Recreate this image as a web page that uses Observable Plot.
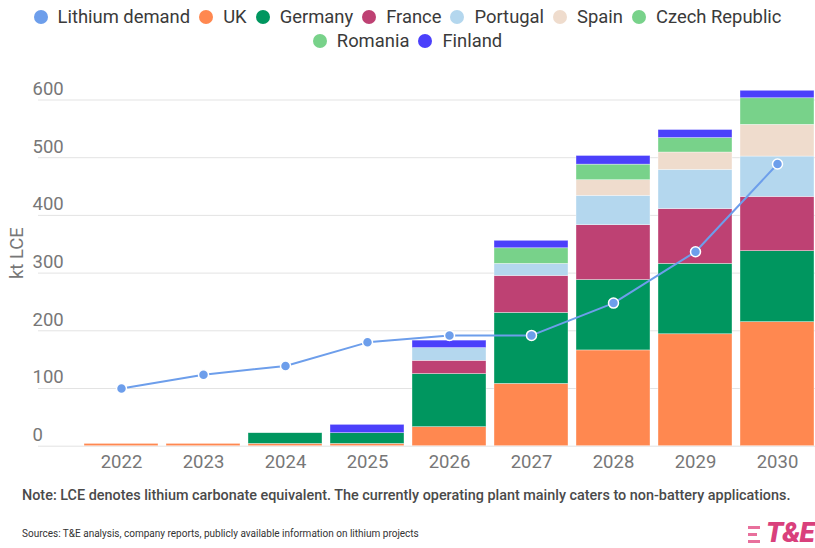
<!DOCTYPE html>
<html>
<head>
<meta charset="utf-8">
<script src="https://cdn.jsdelivr.net/npm/d3@7"></script>
<script src="https://cdn.jsdelivr.net/npm/@observablehq/plot@0.6"></script>
<style>
  html, body { margin: 0; padding: 0; background: #fff; }
  body { width: 815px; height: 548px; overflow: hidden; font-family: Roboto, "Noto Sans", sans-serif; position: relative; }
  #legend { height: 58px; box-sizing: border-box; padding-top: 5px; display: flex; flex-wrap: wrap; justify-content: center; align-content: flex-start; line-height: 24px; font-size: 18.4px; color: #3a3a3a; padding-left: 20px; padding-right: 20px; }
  .item { display: flex; align-items: center; margin: 0 4.5px; }
  .dot { width: 14px; height: 14px; border-radius: 50%; margin-right: 10px; }
  #chart { height: 420px; }
  #note { position: absolute; left: 22px; top: 487px; font-size: 14.4px; font-weight: 500; color: #4a4a4a; white-space: nowrap; }
  #sources { position: absolute; left: 22px; top: 528px; font-size: 10px; color: #333; white-space: nowrap; }
  #logo { position: absolute; left: 748px; top: 516px; font-size: 28px; font-weight: 900; font-style: italic; color: #d9407c; white-space: nowrap; letter-spacing: -1px; }
  #logo .bars { display: inline-block; vertical-align: middle; margin-right: 6px; }
  #logo .bars span { display: block; height: 3px; margin: 4px 0; background: #e8709c; }
</style>
</head>
<body>
<div id="legend"></div>
<div id="chart"></div>
<div id="note">Note: LCE denotes lithium carbonate equivalent. The currently operating plant mainly caters to non-battery applications.</div>
<div id="sources">Sources: T&amp;E analysis, company reports, publicly available information on lithium projects</div>
<div id="logo"><span class="bars"><span style="width:12px"></span><span style="width:9px"></span><span style="width:12px"></span></span>T&amp;E</div>
<script>
const years = ["2022", "2023", "2024", "2025", "2026", "2027", "2028", "2029", "2030"];
const countries = ["UK", "Germany", "France", "Portugal", "Spain", "Czech Republic", "Romania", "Finland"];
const colors = ["#ff8850", "#00965f", "#be4173", "#b4d7ee", "#efdccd", "#78d28a", "#78d28a", "#4b40fb"];
const demandColor = "#6d9eeb";

const uk       = [4, 4, 4, 4, 33, 108, 166, 194, 215];
const germany  = [0, 0, 18.5, 18.5, 92, 123, 122, 122, 123];
const france   = [0, 0, 0, 0, 23, 64, 95, 95, 94];
const portugal = [0, 0, 0, 0, 22, 21, 51, 68, 70];
const spain    = [0, 0, 0, 0, 0, 0, 27, 30, 55];
const czech    = [0, 0, 0, 0, 0, 27, 27, 25, 46];
const romania  = [0, 0, 0, 0, 0, 0, 0, 0, 0];
const finland  = [0, 0, 0, 14.5, 13, 13, 15, 14, 13];
const demand   = [100, 124, 139, 180, 192, 192, 248, 337, 489];

const yTicks = [0, 100, 200, 300, 400, 500, 600];

const series = [uk, germany, france, portugal, spain, czech, romania, finland];
const rows = [];
countries.forEach((c, i) => years.forEach((y, j) => rows.push({year: y, country: c, value: series[i][j]})));
const demandRows = years.map((y, j) => ({year: y, value: demand[j]}));

// legend
const legend = document.getElementById("legend");
const legendItems = [["Lithium demand", demandColor]].concat(countries.map((c, i) => [c, colors[i]]));
legendItems.forEach(([name, col]) => {
  const it = document.createElement("div");
  it.className = "item";
  it.innerHTML = `<div class="dot" style="background:${col}"></div><span>${name}</span>`;
  legend.appendChild(it);
});

const chart = Plot.plot({
  width: 815,
  height: 420,
  marginLeft: 38,
  marginRight: 0,
  marginTop: 41.5,
  marginBottom: 32.3,
  style: {fontFamily: "Roboto, sans-serif", background: "white"},
  x: {domain: years, paddingInner: 0.1, paddingOuter: 0.28, align: 0.97, label: null},
  y: {domain: [0, 600], label: null},
  color: {domain: countries, range: colors},
  marks: [
    Plot.gridY(yTicks, {stroke: "#e3e3e3", strokeOpacity: 1, strokeWidth: 1}),
    Plot.barY(rows, {x: "year", y: "value", fill: "country", order: countries, stroke: "white", strokeWidth: 0.6, strokeOpacity: 0.6}),
    Plot.line(demandRows, {x: "year", y: "value", stroke: demandColor, strokeWidth: 2}),
    Plot.dot(demandRows, {x: "year", y: "value", r: 5, fill: demandColor, stroke: "white", strokeWidth: 1.5}),
    Plot.axisY(yTicks, {tickSize: 0, textAnchor: "start", dx: 3, dy: -11, fontSize: 18.5, color: "#777", label: null}),
    Plot.axisX({tickSize: 0, tickPadding: 9, fontSize: 18.5, color: "#777", label: null}),
    Plot.text(["kt LCE"], {frameAnchor: "left", dx: -21, dy: 6, rotate: -90, fontSize: 18.5, fill: "#777"})
  ]
});
document.getElementById("chart").appendChild(chart);
</script>
</body>
</html>
